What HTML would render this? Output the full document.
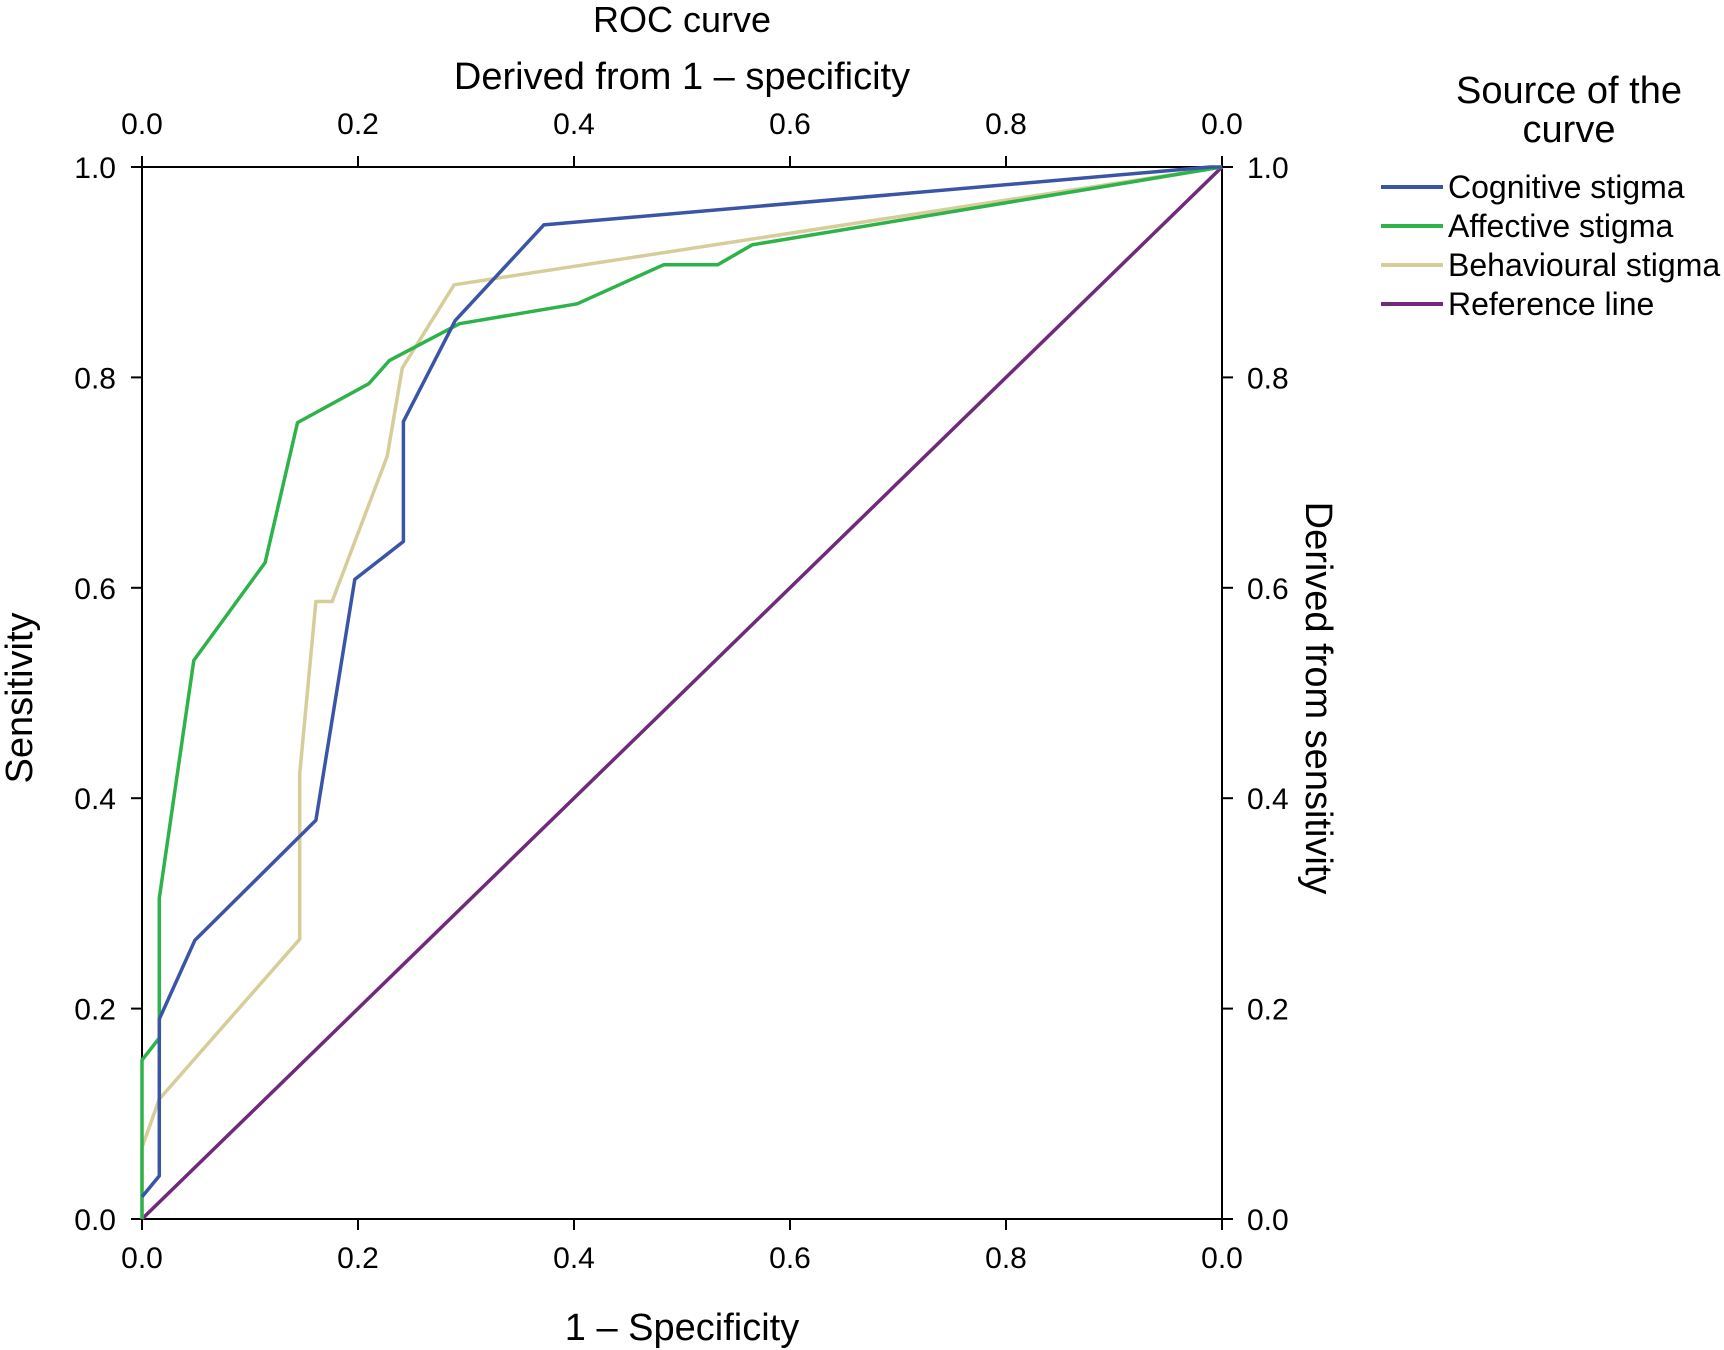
<!DOCTYPE html>
<html><head><meta charset="utf-8"><style>
html,body{margin:0;padding:0;background:#fff;}
svg{display:block;font-family:"Liberation Sans","DejaVu Sans",sans-serif;}
</style></head><body>
<svg id="chart" width="1724" height="1350" viewBox="0 0 1724 1350">
<g id="axes"></g>
<g id="series"></g>
<g id="legend"></g>
<text x="682" y="32" font-size="36" text-anchor="middle">ROC curve</text>
<text x="682" y="89" font-size="38" text-anchor="middle">Derived from 1 – specificity</text>
<text x="682" y="1340" font-size="38" text-anchor="middle">1 – Specificity</text>
<text transform="translate(32,698) rotate(-90)" font-size="38" text-anchor="middle">Sensitivity</text>
<text transform="translate(1306,698) rotate(90)" font-size="38" text-anchor="middle">Derived from sensitivity</text>
<text x="1569" y="103" font-size="38" text-anchor="middle">Source of the</text>
<text x="1569" y="142" font-size="38" text-anchor="middle">curve</text>
</svg>
<script>
const ticks = [0, 0.2, 0.4, 0.6, 0.8, 1.0];
const tickLabels = ["0.0","0.2","0.4","0.6","0.8","1.0"];
const xTopBottomLabels = ["0.0","0.2","0.4","0.6","0.8","0.0"];
const seriesNames = ["Cognitive stigma","Affective stigma","Behavioural stigma","Reference line"];
const seriesColors = ["#3b55a6","#2eb34b","#d6cd98","#6f2a7b"];
const cognitiveX = [0,0.016,0.016,0.049,0.161,0.197,0.242,0.242,0.290,0.372,0.989,1];
const cognitiveY = [0.021,0.041,0.19,0.265,0.379,0.608,0.644,0.758,0.854,0.945,1.0,1];
const affectiveX = [0,0,0,0.016,0.016,0.048,0.114,0.144,0.21,0.229,0.294,0.403,0.483,0.533,0.565,1];
const affectiveY = [0,0.073,0.151,0.172,0.305,0.531,0.624,0.757,0.794,0.816,0.851,0.87,0.907,0.907,0.926,1];
const behaviouralX = [0,0,0.016,0.146,0.146,0.161,0.176,0.227,0.241,0.289,1];
const behaviouralY = [0.002,0.068,0.114,0.266,0.423,0.587,0.587,0.725,0.809,0.888,1.0];
const referenceX = [0,1];
const referenceY = [0,1];

const X0=142, X1=1222, Y0=1219, Y1=167;
const sx = v => X0 + v*(X1-X0);
const sy = v => Y0 - v*(Y0-Y1);
const NS="http://www.w3.org/2000/svg";
function mk(tag, attrs, parent){const e=document.createElementNS(NS,tag);for(const k in attrs)e.setAttribute(k,attrs[k]);parent.appendChild(e);return e;}
const axes=document.getElementById('axes');
const frame=[["x-axis-bottom",X0,Y0,X1,Y0],["x-axis-top",X0,Y1,X1,Y1],["y-axis-left",X0,Y1,X0,Y0],["y-axis-right",X1,Y1,X1,Y0]];
frame.forEach(f=>{const l=mk('line',{x1:f[1],y1:f[2],x2:f[3],y2:f[4],stroke:"#000","stroke-width":2},axes);

});
ticks.forEach((t,i)=>{
  const x=sx(t), y=sy(t);
  [[x,Y0,x,Y0+11],[x,Y1,x,Y1-11],[X0-11,y,X0,y],[X1,y,X1+11,y]].forEach(c=>{
    const tk=mk('line',{x1:c[0],y1:c[1],x2:c[2],y2:c[3],stroke:"#000","stroke-width":2},axes);
    
    
  });
  let a=mk('text',{x:x,y:1268,"font-size":30,"text-anchor":"middle"},axes);a.textContent=xTopBottomLabels[i];
  
  
  let b=mk('text',{x:x,y:134,"font-size":30,"text-anchor":"middle"},axes);b.textContent=xTopBottomLabels[i];
  
  
  let c=mk('text',{x:116,y:y+11,"font-size":30,"text-anchor":"end"},axes);c.textContent=tickLabels[i];
  
  
  let d=mk('text',{x:1247,y:y+11,"font-size":30,"text-anchor":"start"},axes);d.textContent=tickLabels[i];
  
  
});
const series=document.getElementById('series');
const data=[[referenceX,referenceY,3,"reference-line"],[behaviouralX,behaviouralY,2,"behavioural-stigma-line"],[affectiveX,affectiveY,1,"affective-stigma-line"],[cognitiveX,cognitiveY,0,"cognitive-stigma-line"]];
data.forEach(s=>{
  const pts=s[0].map((v,i)=>sx(v).toFixed(1)+","+sy(s[1][i]).toFixed(1)).join(" ");
  const p=mk('polyline',{points:pts,fill:"none",stroke:seriesColors[s[2]],"stroke-width":3.5,"stroke-linejoin":"round"},series);
  
  
});
const legend=document.getElementById('legend');
seriesNames.forEach((n,i)=>{
  const y=187+i*39;
  const l=mk('line',{x1:1381,y1:y,x2:1443,y2:y,stroke:seriesColors[i],"stroke-width":4},legend);
  
  
  const t=mk('text',{x:1448,y:y+11,"font-size":32},legend);t.textContent=n;
  
  
});
</script>
</body></html>
